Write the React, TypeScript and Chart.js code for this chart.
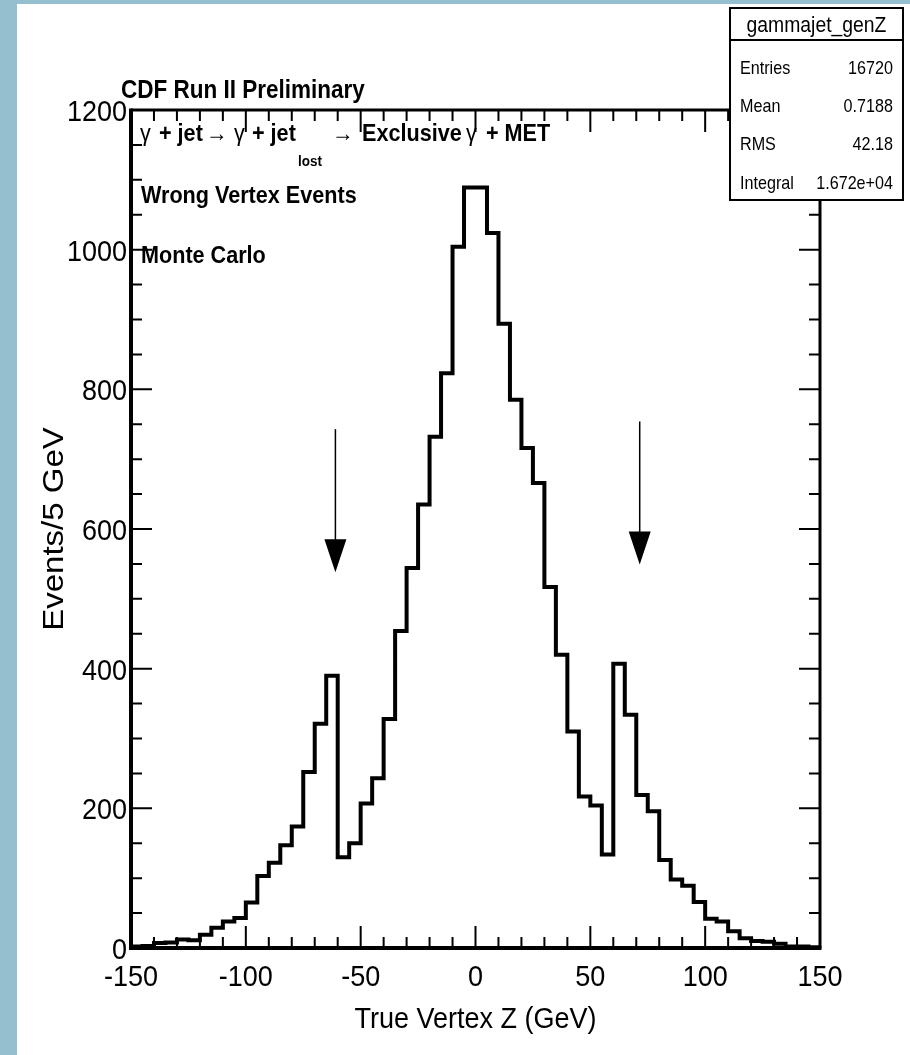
import React, { useEffect, useRef } from 'react';
import { Chart, registerables } from 'chart.js';

Chart.register(...registerables);

// ---- data ----
const X_MIN = -150;
const X_MAX = 150;
const BIN_WIDTH = 5;
const Y_MIN = 0;
const Y_MAX = 1200;

// Events per 5 GeV bin, from -150 to 150 (60 bins)
const COUNTS = [
  2, 3, 7, 8, 12, 11, 19, 29, 38, 43,
  65, 103, 122, 147, 174, 252, 321, 390, 130, 150,
  207, 243, 328, 454, 544, 635, 732, 823, 1004, 1089,
  1089, 1024, 894, 785, 716, 666, 517, 420, 310, 217,
  204, 134, 407, 334, 219, 196, 126, 98, 89, 66,
  42, 38, 24, 14, 10, 9, 6, 2, 2, 1,
];

const X_TICK_LABELS = [-150, -100, -50, 0, 50, 100, 150];
const Y_TICK_LABELS = [0, 200, 400, 600, 800, 1000, 1200];
const X_MINOR_STEP = 10;
const Y_MINOR_STEP = 50;

const ARROW_X = [-61, 71.5];
const ARROW_TOP = [743, 754];
const ARROW_TIP = [538, 549];

const STATS_TITLE = 'gammajet_genZ';
const STATS_LABELS = ['Entries', 'Mean', 'RMS', 'Integral'];
const STATS_VALUES = ['16720', '0.7188', '42.18', '1.672e+04'];

const TOP_TITLE = 'CDF Run II Preliminary';
const X_TITLE = 'True Vertex Z (GeV)';
const Y_TITLE = 'Events/5 GeV';
const LABEL_LINES = ['Wrong Vertex Events', 'Monte Carlo'];

const PROCESS_SEGMENTS = [
  { t: 'γ', x: 140, bold: false, sub: false },
  { t: '+ jet', x: 159, bold: true, sub: false },
  { t: '→', x: 206, bold: false, sub: false },
  { t: 'γ', x: 234, bold: false, sub: false },
  { t: '+ jet', x: 252, bold: true, sub: false },
  { t: 'lost', x: 298, bold: true, sub: true },
  { t: '→', x: 332, bold: false, sub: false },
  { t: 'Exclusive', x: 362, bold: true, sub: false },
  { t: 'γ', x: 466, bold: false, sub: false },
  { t: '+ MET', x: 486, bold: true, sub: false },
];

const FONT = '"Liberation Sans", Arial, sans-serif';
const SX = 0.9;

function drawText(
  ctx: CanvasRenderingContext2D,
  s: string,
  x: number,
  y: number,
  font: string,
  align: CanvasTextAlign = 'left',
  sx: number = SX
) {
  ctx.save();
  ctx.font = font;
  ctx.fillStyle = '#000';
  ctx.textAlign = align;
  ctx.textBaseline = 'alphabetic';
  ctx.translate(x, y);
  ctx.scale(sx, 1);
  ctx.fillText(s, 0, 0);
  ctx.restore();
}

const rootStylePlugin = {
  id: 'rootStyle',
  beforeDraw(chart: any) {
    const ctx: CanvasRenderingContext2D = chart.ctx;
    ctx.save();
    ctx.fillStyle = '#95bfcf';
    ctx.fillRect(0, 0, chart.width, chart.height);
    ctx.fillStyle = '#ffffff';
    ctx.fillRect(17, 4, chart.width - 17, chart.height - 4);
    ctx.restore();
  },
  afterDatasetsDraw(chart: any) {
    const ctx: CanvasRenderingContext2D = chart.ctx;
    const xs = chart.scales.x;
    const ys = chart.scales.y;
    const { left, right, top, bottom } = chart.chartArea;

    ctx.save();
    ctx.strokeStyle = '#000';
    ctx.lineCap = 'butt';

    // frame
    ctx.lineWidth = 3;
    ctx.beginPath();
    ctx.moveTo(left, top);
    ctx.lineTo(right, top);
    ctx.lineTo(right, bottom);
    ctx.stroke();
    ctx.lineWidth = 4;
    ctx.beginPath();
    ctx.moveTo(left, top - 1.5);
    ctx.lineTo(left, bottom);
    ctx.lineTo(right + 1.5, bottom);
    ctx.stroke();

    // x ticks (bottom and top, inward)
    ctx.lineWidth = 2;
    for (let v = X_MIN; v <= X_MAX + 1e-9; v += X_MINOR_STEP) {
      const px = xs.getPixelForValue(v);
      const major = X_TICK_LABELS.includes(v);
      const len = major ? 22 : 11;
      ctx.beginPath();
      ctx.moveTo(px, bottom);
      ctx.lineTo(px, bottom - len);
      ctx.moveTo(px, top);
      ctx.lineTo(px, top + len);
      ctx.stroke();
    }
    // y ticks (left and right, inward)
    for (let v = Y_MIN; v <= Y_MAX + 1e-9; v += Y_MINOR_STEP) {
      const py = ys.getPixelForValue(v);
      const major = Y_TICK_LABELS.includes(v);
      const len = major ? 21 : 11;
      ctx.beginPath();
      ctx.moveTo(left, py);
      ctx.lineTo(left + len, py);
      ctx.moveTo(right, py);
      ctx.lineTo(right - len, py);
      ctx.stroke();
    }
    ctx.restore();

    // tick labels
    for (const v of X_TICK_LABELS) {
      drawText(ctx, String(v), xs.getPixelForValue(v), bottom + 38, `30px ${FONT}`, 'center');
    }
    for (const v of Y_TICK_LABELS) {
      drawText(ctx, String(v), left - 4, ys.getPixelForValue(v) + 11, `30px ${FONT}`, 'right');
    }

    // axis titles
    drawText(ctx, X_TITLE, (left + right) / 2, bottom + 80, `30px ${FONT}`, 'center');
    ctx.save();
    ctx.translate(63, (top + bottom) / 2);
    ctx.rotate(-Math.PI / 2);
    ctx.scale(1, SX);
    ctx.font = `33px ${FONT}`;
    ctx.fillStyle = '#000';
    ctx.textAlign = 'center';
    ctx.textBaseline = 'alphabetic';
    ctx.fillText(Y_TITLE, 0, 0);
    ctx.restore();

    // annotations
    drawText(ctx, TOP_TITLE, 121, 98, `bold 25px ${FONT}`, 'left');
    for (const seg of PROCESS_SEGMENTS) {
      if (seg.sub) {
        drawText(ctx, seg.t, seg.x, 166, `bold 15px ${FONT}`, 'left');
      } else {
        drawText(ctx, seg.t, seg.x, 141, `${seg.bold ? 'bold ' : ''}24px ${FONT}`, 'left');
      }
    }
    drawText(ctx, LABEL_LINES[0], 141, 203, `bold 24px ${FONT}`, 'left');
    drawText(ctx, LABEL_LINES[1], 141, 263, `bold 24px ${FONT}`, 'left');

    // arrows
    ctx.save();
    ctx.strokeStyle = '#000';
    ctx.fillStyle = '#000';
    ctx.lineWidth = 1.5;
    for (let i = 0; i < ARROW_X.length; i++) {
      const px = xs.getPixelForValue(ARROW_X[i]);
      const pTop = ys.getPixelForValue(ARROW_TOP[i]);
      const pTip = ys.getPixelForValue(ARROW_TIP[i]);
      const headLen = 33;
      const halfW = 11;
      ctx.beginPath();
      ctx.moveTo(px, pTop);
      ctx.lineTo(px, pTip - headLen + 2);
      ctx.stroke();
      ctx.beginPath();
      ctx.moveTo(px - halfW, pTip - headLen);
      ctx.lineTo(px + halfW, pTip - headLen);
      ctx.lineTo(px, pTip);
      ctx.closePath();
      ctx.fill();
    }
    ctx.restore();

    // stats box
    const bx = 730, by = 8, bw = 173, bh = 192, titleH = 32;
    ctx.save();
    ctx.fillStyle = '#fff';
    ctx.fillRect(bx, by, bw, bh);
    ctx.strokeStyle = '#000';
    ctx.lineWidth = 2;
    ctx.strokeRect(bx, by, bw, bh);
    ctx.beginPath();
    ctx.moveTo(bx, by + titleH);
    ctx.lineTo(bx + bw, by + titleH);
    ctx.stroke();
    ctx.restore();
    drawText(ctx, STATS_TITLE, bx + bw / 2, by + 24, `22px ${FONT}`, 'center', 0.88);
    const rowY = [74, 112, 150, 189];
    for (let i = 0; i < STATS_LABELS.length; i++) {
      drawText(ctx, STATS_LABELS[i], bx + 10, rowY[i], `19px ${FONT}`, 'left', 0.85);
      drawText(ctx, STATS_VALUES[i], bx + bw - 10, rowY[i], `19px ${FONT}`, 'right', 0.85);
    }
  },
};

export default function App() {
  const canvasRef = useRef<HTMLCanvasElement | null>(null);

  useEffect(() => {
    document.body.style.margin = '0';
    document.body.style.overflow = 'hidden';
    const canvas = canvasRef.current;
    if (!canvas) return;

    const points: { x: number; y: number }[] = [{ x: X_MIN, y: 0 }];
    COUNTS.forEach((c, i) => points.push({ x: X_MIN + i * BIN_WIDTH, y: c }));
    points.push({ x: X_MAX, y: COUNTS[COUNTS.length - 1] });
    points.push({ x: X_MAX, y: 0 });

    const chart = new Chart(canvas, {
      type: 'line',
      data: {
        datasets: [
          {
            label: 'gammajet_genZ',
            data: points,
            stepped: 'before',
            borderColor: '#000',
            borderWidth: 4,
            pointRadius: 0,
            fill: false,
            tension: 0,
          } as any,
        ],
      },
      options: {
        animation: false,
        responsive: false,
        maintainAspectRatio: false,
        layout: { padding: { left: 131, right: 90, top: 110, bottom: 107 } },
        plugins: {
          legend: { display: false },
          title: { display: false },
          tooltip: { enabled: false },
        },
        scales: {
          x: { type: 'linear', min: X_MIN, max: X_MAX, display: false },
          y: { type: 'linear', min: Y_MIN, max: Y_MAX, display: false },
        },
      },
      plugins: [rootStylePlugin],
    });

    return () => chart.destroy();
  }, []);

  return (
    <div style={{ position: 'absolute', left: 0, top: 0, width: 910, height: 1055 }}>
      <canvas ref={canvasRef} width={910} height={1055} style={{ display: 'block' }} />
    </div>
  );
}
